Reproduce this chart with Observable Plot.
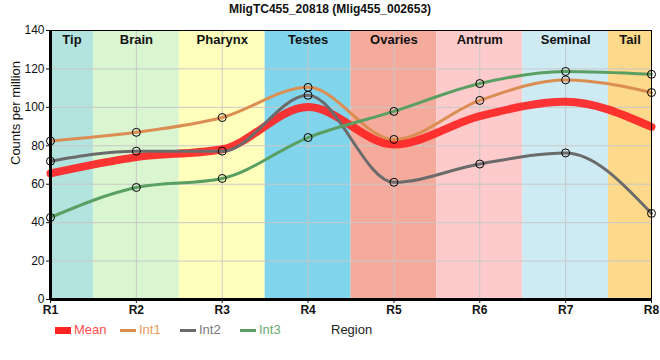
<!DOCTYPE html>
<html>
<head>
<meta charset="utf-8">
<script src="https://cdn.jsdelivr.net/npm/d3@7"></script>
<script src="https://cdn.jsdelivr.net/npm/@observablehq/plot@0.6"></script>
<style>
  body { margin: 0; background: #fff; font-family: Arial, "Liberation Sans", sans-serif; }
  #wrap { position: relative; width: 660px; height: 360px; }
  #title { height: 20px; line-height: 18px; text-align: center; font-weight: bold; font-size: 12px; color: #111; }
  .lg { position: absolute; font-size: 13px; line-height: 14px; }
  .sw { position: absolute; }
</style>
</head>
<body>
<div id="wrap">
  <div id="title">MligTC455_20818 (Mlig455_002653)</div>
  <div id="chart"></div>
  <div id="legend"></div>
</div>
<script>
// ---- data ----
const xPos = [1, 2, 3, 4, 5, 6, 7, 8];
const xTickLabels = ["R1", "R2", "R3", "R4", "R5", "R6", "R7", "R8"];
const yTicks = [0, 20, 40, 60, 80, 100, 120, 140];

const regionNames = ["Tip", "Brain", "Pharynx", "Testes", "Ovaries", "Antrum", "Seminal", "Tail"];
const regionStart = [1, 1.5, 2.5, 3.5, 4.5, 5.5, 6.5, 7.5];
const regionEnd   = [1.5, 2.5, 3.5, 4.5, 5.5, 6.5, 7.5, 8];

const seriesNames = ["Mean", "Int1", "Int2", "Int3"];
const meanVals = [65.6, 74.1, 78.2, 100.2, 80.7, 95.4, 102.9, 89.8];
const int1Vals = [82.5, 87.0, 94.7, 110.4, 83.3, 103.6, 114.3, 107.7];
const int2Vals = [72.0, 77.2, 77.2, 106.3, 61.0, 70.5, 76.3, 44.8];
const int3Vals = [42.7, 58.3, 63.0, 84.3, 97.9, 112.4, 118.7, 117.2];

// ---- styles ----
const regionColors = ["#b3e3de", "#d9f6d0", "#ffffbb", "#80d4eb", "#f4ab9c", "#fdcbcb", "#ceebf4", "#fdd98b"];
const lineColors = {Mean: "#ff2424", Int1: "#dc8e52", Int2: "#6b6b6b", Int3: "#5a9f62"};
const legendTextColors = {Mean: "#ff4d4d", Int1: "#e39a5f", Int2: "#7a7a7a", Int3: "#68a96f"};

const regions = regionNames.map((n, i) => ({name: n, x1: regionStart[i], x2: regionEnd[i], mid: (regionStart[i] + regionEnd[i]) / 2, color: regionColors[i]}));
const valsBy = {Mean: meanVals, Int1: int1Vals, Int2: int2Vals, Int3: int3Vals};
const long = seriesNames.flatMap(s => xPos.map((x, i) => ({series: s, x, y: valsBy[s][i]})));
const ints = long.filter(d => d.series !== "Mean");

const chart = Plot.plot({
  width: 660,
  height: 340,
  marginTop: 10,
  marginBottom: 61,
  marginLeft: 50,
  marginRight: 9,
  style: {fontSize: "12px", fontFamily: "Arial, 'Liberation Sans', sans-serif", color: "#111", background: "transparent"},
  x: {domain: [1, 8], label: null},
  y: {domain: [0, 140], label: null},
  marks: [
    Plot.rect(regions, {x1: "x1", x2: "x2", y1: 0, y2: 140, fill: "color"}),
    Plot.gridX(xPos, {stroke: "#c8c8c8", strokeOpacity: 1}),
    Plot.gridY(yTicks, {stroke: "#c8c8c8", strokeOpacity: 1}),
    Plot.text(regions, {x: "mid", y: 140, text: "name", dy: 9, fontWeight: "bold", fontSize: 13, fill: "#111"}),
    Plot.line(long.filter(d => d.series === "Mean"), {x: "x", y: "y", stroke: lineColors.Mean, strokeWidth: 8, strokeOpacity: 0.92, curve: "monotone-x"}),
    ...["Int1", "Int2", "Int3"].map(s =>
      Plot.line(long.filter(d => d.series === s), {x: "x", y: "y", stroke: lineColors[s], strokeWidth: 3, curve: "monotone-x"})
    ),
    Plot.dot(ints, {x: "x", y: "y", r: 4, stroke: "#000", strokeWidth: 1, fill: "none"}),
    Plot.frame({stroke: "#000", strokeWidth: 1}),
    Plot.ruleX([1], {stroke: "#000", strokeWidth: 3}),
    Plot.ruleY([0], {stroke: "#000", strokeWidth: 3}),
    Plot.axisX(xPos, {tickFormat: d => xTickLabels[xPos.indexOf(d)], fontWeight: "bold", tickSize: 4, tickPadding: 2, label: null}),
    Plot.axisY(yTicks, {tickSize: 4, tickPadding: 2, label: null}),
    Plot.text(["Counts per million"], {frameAnchor: "left", text: d => d, rotate: -90, dx: -35, fontSize: 13, fill: "#111"})
  ]
});
document.getElementById("chart").appendChild(chart);

// ---- legend (HTML) ----
const lg = document.getElementById("legend");
const swatchLeft = {Mean: 55, Int1: 120, Int2: 180, Int3: 240};
seriesNames.forEach(s => {
  const sw = document.createElement("div");
  sw.className = "sw";
  const thick = s === "Mean";
  sw.style.left = swatchLeft[s] + "px";
  sw.style.width = "16px";
  sw.style.height = (thick ? 7 : 3) + "px";
  sw.style.top = (thick ? 327 : 329) + "px";
  sw.style.background = lineColors[s];
  lg.appendChild(sw);
  const t = document.createElement("div");
  t.className = "lg";
  t.style.left = (swatchLeft[s] + 19) + "px";
  t.style.top = "323px";
  t.style.color = legendTextColors[s];
  t.textContent = s;
  lg.appendChild(t);
});
const reg = document.createElement("div");
reg.className = "lg";
reg.style.left = "331px";
reg.style.top = "323px";
reg.style.color = "#222";
reg.textContent = "Region";
lg.appendChild(reg);
</script>
</body>
</html>
